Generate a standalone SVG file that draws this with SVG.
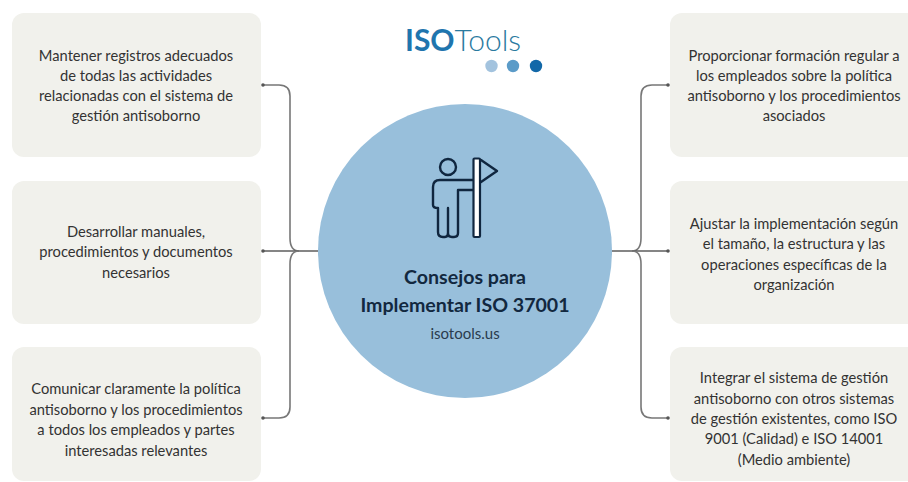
<svg xmlns="http://www.w3.org/2000/svg" width="908" height="482" viewBox="0 0 908 482">
<style>
.box{fill:#f1f1ec}
.t{font-family:Lato,"Liberation Sans",sans-serif;font-size:14.7px;fill:#333;text-anchor:middle}
.h{font-family:Lato,"Liberation Sans",sans-serif;font-size:19.6px;font-weight:700;fill:#12283f;text-anchor:middle}
.c{fill:none;stroke:#777;stroke-width:1.6}
.m{fill:none;stroke:#5c5c5c;stroke-width:1.7}
.d{fill:#555}
.i{fill:none;stroke:#10263f;stroke-width:2.4;stroke-linejoin:round;stroke-linecap:round}
</style>
<rect width="908" height="482" fill="#fff"/>
<g id="connectors">
<path class="c" d="M263 85H279Q290 85 290 96V238Q290 251 299 251"/>
<path class="m" d="M263 251H318"/>
<path class="c" d="M263 418H279Q290 418 290 407V264Q290 251 299 251"/>
<path class="c" d="M668 85H652Q641 85 641 96V238Q641 251 632 251"/>
<path class="m" d="M612 251H668"/>
<path class="c" d="M668 418H652Q641 418 641 407V264Q641 251 632 251"/>
<circle class="d" cx="263" cy="85" r="1.8"/><circle class="d" cx="263" cy="251" r="1.8"/><circle class="d" cx="263" cy="418" r="1.8"/>
<circle class="d" cx="668" cy="85" r="1.8"/><circle class="d" cx="668" cy="251" r="1.8"/><circle class="d" cx="668" cy="418" r="1.8"/>
</g>
<g id="node-l1"><rect class="box" x="12" y="13" width="249" height="144" rx="12"/>
<text class="t" x="136" y="60.5">Mantener registros adecuados</text><text class="t" x="136" y="81">de todas las actividades</text><text class="t" x="136" y="101">relacionadas con el sistema de</text><text class="t" x="136" y="121">gestión antisoborno</text></g>
<g id="node-l2"><rect class="box" x="12" y="181" width="249" height="143" rx="12"/>
<text class="t" x="136" y="237">Desarrollar manuales,</text><text class="t" x="136" y="257">procedimientos y documentos</text><text class="t" x="136" y="278">necesarios</text></g>
<g id="node-l3"><rect class="box" x="12" y="347" width="249" height="134" rx="12"/>
<text class="t" x="136" y="394">Comunicar claramente la política</text><text class="t" x="136" y="415">antisoborno y los procedimientos</text><text class="t" x="136" y="435">a todos los empleados y partes</text><text class="t" x="136" y="456">interesadas relevantes</text></g>
<g id="node-r1"><rect class="box" x="670" y="13" width="250" height="144" rx="12"/>
<text class="t" x="794" y="60.5">Proporcionar formación regular a</text><text class="t" x="794" y="81">los empleados sobre la política</text><text class="t" x="794" y="101">antisoborno y los procedimientos</text><text class="t" x="794" y="121">asociados</text></g>
<g id="node-r2"><rect class="box" x="670" y="181" width="250" height="143" rx="12"/>
<text class="t" x="794" y="229">Ajustar la implementación según</text><text class="t" x="794" y="249">el tamaño, la estructura y las</text><text class="t" x="794" y="270">operaciones específicas de la</text><text class="t" x="794" y="290">organización</text></g>
<g id="node-r3"><rect class="box" x="670" y="347" width="250" height="134" rx="12"/>
<text class="t" x="794" y="383">Integrar el sistema de gestión</text><text class="t" x="794" y="404">antisoborno con otros sistemas</text><text class="t" x="794" y="424">de gestión existentes, como ISO</text><text class="t" x="794" y="444">9001 (Calidad) e ISO 14001</text><text class="t" x="794" y="465">(Medio ambiente)</text></g>
<g id="node-center"><circle cx="465" cy="251" r="147" fill="#98bfdb"/>
<circle class="i" cx="448" cy="167" r="8"/>
<path class="i" d="M475 180H440Q433 180 433 187V205Q433 208 438 208V232Q438 237 443 237H445Q448 237 448 233V208M448 233Q448 237 452 237H454Q458 237 458 233V190H475"/>
<rect x="473.500" y="158.500" width="6.500" height="78.500" fill="#fff" stroke="#10263f" stroke-width="2.2" rx="1"/>
<path class="i" d="M481 160L497 171L481 182"/>
<text class="h" x="465" y="283.500">Consejos para</text>
<text class="h" x="465" y="311.500">Implementar ISO 37001</text>
<text x="465" y="338.500" font-family="Lato,'Liberation Sans',sans-serif" font-size="15" fill="#2a3b4d" text-anchor="middle">isotools.us</text></g>
<g id="logo">
<text x="405" y="50.500" font-family="Lato,'Liberation Sans',sans-serif" font-size="30" fill="#2a7a9f"><tspan font-weight="700" fill="#1f75ae">ISO</tspan><tspan font-weight="300">Tools</tspan></text>
<circle cx="491.500" cy="66" r="6.200" fill="#a3c3de"/><circle cx="513" cy="66" r="6.200" fill="#5b9bc8"/><circle cx="536" cy="66" r="6.200" fill="#1268a8"/></g>
</svg>
